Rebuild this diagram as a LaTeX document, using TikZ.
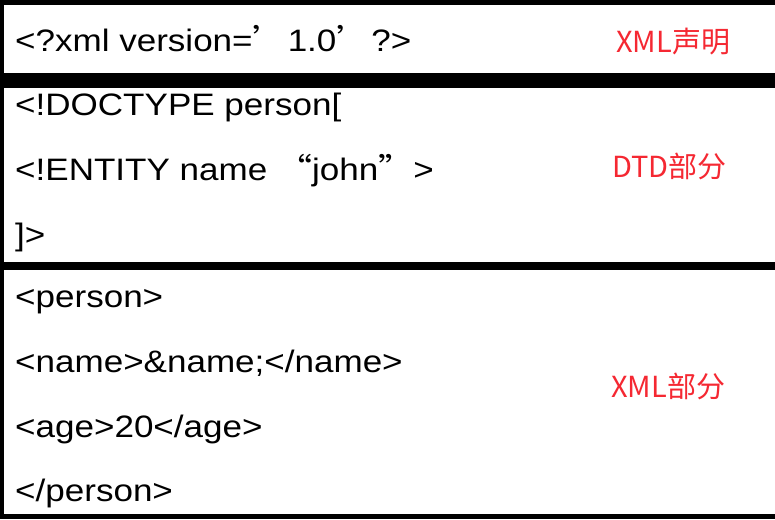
\documentclass[tikz,border=0pt]{standalone}
\usepackage{fontspec}
\setmainfont{Liberation Sans}[FakeStretch=1.13]
\newfontfamily\cjk{Noto Sans CJK SC}
\newfontfamily\cjkwide{Noto Sans CJK SC}[FakeStretch=1.13]
\definecolor{labelred}{RGB}{245,40,50}

\tikzset{
  codeline/.style={anchor=base west, inner sep=0pt, font=\fontsize{31}{31}\selectfont},
  partlabel/.style={anchor=west, inner sep=0pt, text=labelred, font=\cjk\fontsize{29}{29}\selectfont},
  panel/.style={fill=white}
}

\begin{document}
\begin{tikzpicture}[x=1pt,y=-1pt]
        \useasboundingbox (0,0) rectangle (775,519);

        % frame and the three parts
        \fill[black] (0,0) rectangle (775,519);
        \fill[panel] (4,5)   rectangle (775,73);
        \fill[panel] (4,88)  rectangle (775,262);
        \fill[panel] (4,270) rectangle (775,514);

        \begin{scope}[every node/.style={codeline}]
          \node (decl)    at (15,52)  {<?xml version={\cjkwide ’}1.0{\cjkwide ’}?>};
          \node (doctype) at (15,115) {<!DOCTYPE person[};
          \node (entity)  at (15,180) {<!ENTITY name {\cjkwide “}john{\cjkwide ”}>};
          \node (dtdend)  at (15,245) {]>};
          \node (open)    at (15,307) {<person>};
          \node (name)    at (15,372) {<name>\&name;</name>};
          \node (age)     at (15,437) {<age>20</age>};
          \node (close)   at (15,501) {</person>};
        \end{scope}

        \begin{scope}[every node/.style={partlabel}]
          \node (xmldecl) at (616,42)  {XML声明};
          \node (dtdpart) at (612,166) {DTD部分};
          \node (xmlpart) at (611,386) {XML部分};
        \end{scope}

      \end{tikzpicture}
\end{document}
